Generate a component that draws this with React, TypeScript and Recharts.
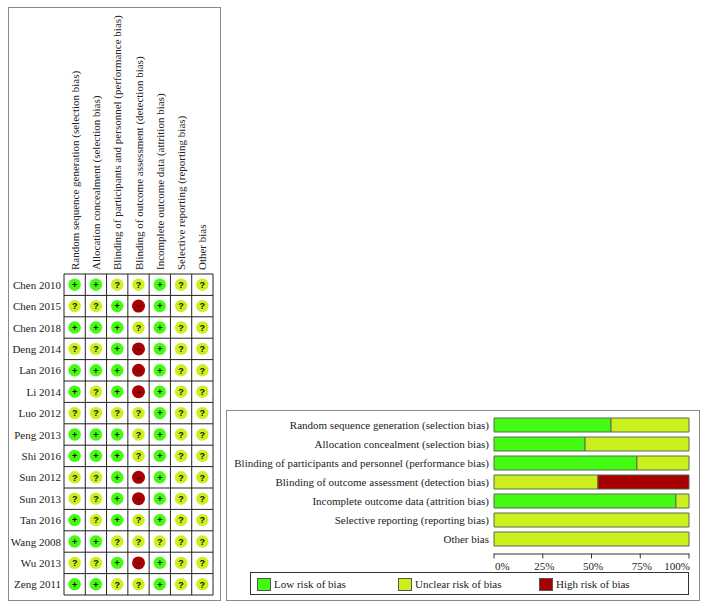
import React from 'react'
import {
  BarChart,
  Bar,
  ScatterChart,
  Scatter,
  XAxis,
  YAxis,
  ReferenceLine,
  Legend,
} from 'recharts'

const FONT = '"Liberation Serif", serif'
const TEXT = '#222'
const GREEN = '#44fb12'
const YELLOW = '#cbf01e'
const RED = '#a80000'

const domains = [
  'Random sequence generation (selection bias)',
  'Allocation concealment (selection bias)',
  'Blinding of participants and personnel (performance bias)',
  'Blinding of outcome assessment (detection bias)',
  'Incomplete outcome data (attrition bias)',
  'Selective reporting (reporting bias)',
  'Other bias',
]

const studies = [
  'Chen 2010', 'Chen 2015', 'Chen 2018', 'Deng 2014', 'Lan 2016',
  'Li 2014', 'Luo 2012', 'Peng 2013', 'Shi 2016', 'Sun 2012',
  'Sun 2013', 'Tan 2016', 'Wang 2008', 'Wu 2013', 'Zeng 2011',
]

// one string per study, one character per domain
const ratings = [
  '++??+??', '??+-+??', '+++?+??', '??+-+??', '+++-+??',
  '+?+-+??', '????+??', '+++?+??', '+++?+??', '??+-+??',
  '??+-+??', '+?+?+??', '++?????', '??+-+??', '++??+??',
]

const lowRisk = [60, 46.7, 73.3, 0, 93.3, 0, 0]
const unclearRisk = [40, 53.3, 26.7, 53.3, 6.7, 100, 100]
const highRisk = [0, 0, 0, 46.7, 0, 0, 0]
const percentTicks = [0, 25, 50, 75, 100]

const columnEdges = [0, 1, 2, 3, 4, 5, 6, 7]
const rowEdges = [0, 1, 2, 3, 4, 5, 6, 7, 8, 9, 10, 11, 12, 13, 14, 15]

const cells = ratings.flatMap((row, r) =>
  row.split('').map((rating, c) => ({ col: c + 0.5, row: r + 0.5, rating })),
)

const barData = domains.map((name, i) => ({
  name,
  low: lowRisk[i],
  unclear: unclearRisk[i],
  high: highRisk[i],
}))

function RatingDot({ cx, cy, payload }: any) {
  const fill = payload.rating === '+' ? GREEN : payload.rating === '?' ? YELLOW : RED
  const glyph = payload.rating === '-' ? '\u2212' : payload.rating
  return (
    <g>
      <circle cx={cx} cy={cy} r={payload.rating === '-' ? 6.5 : 6.2} fill={fill} />
      <text
        x={cx}
        y={cy + 3.2}
        textAnchor="middle"
        fontFamily='"Liberation Sans", sans-serif'
        fontWeight="bold"
        fontSize={9}
        fill="#111"
      >
        {glyph}
      </text>
    </g>
  )
}

function DomainTick({ x, y, payload }: any) {
  return (
    <text
      x={x}
      y={y}
      dy={4}
      transform={`rotate(-90 ${x} ${y})`}
      fontFamily={FONT}
      fontSize={11}
      fill={TEXT}
    >
      {domains[Math.floor(payload.value)]}
    </text>
  )
}

// plain right-aligned label, the default tick wraps long names
function RowTick({ x, y, payload, formatter }: any) {
  return (
    <text x={x} y={y} dy={4} textAnchor="end" fontFamily={FONT} fontSize={11} fill={TEXT}>
      {formatter ? formatter(payload.value) : payload.value}
    </text>
  )
}

function PercentTick({ x, y, payload }: any) {
  const anchor = payload.value === 0 ? 'start' : payload.value === 100 ? 'end' : 'middle'
  const nudge = payload.value === 0 ? 1 : payload.value === 100 ? 1 : 1.5
  return (
    <g>
      <line x1={x} x2={x} y1={y - 2.5} y2={y + 2.5} stroke="#333" />
      <text x={x + nudge} y={y + 14} textAnchor={anchor} fontFamily={FONT} fontSize={11} fill={TEXT}>
        {payload.value}%
      </text>
    </g>
  )
}

function RiskLegend({ payload }: any) {
  return (
    <div
      style={{
        height: 23,
        boxSizing: 'border-box',
        border: '1px solid #333',
        position: 'relative',
        fontFamily: FONT,
        fontSize: 11,
        color: TEXT,
      }}
    >
      {(payload || []).map((item: any, i: number) => (
        <div key={item.value} style={{ position: 'absolute', left: 6 + i * 141, top: 5, display: 'flex' }}>
          <span
            style={{
              width: 12,
              height: 11,
              background: item.color,
              border: '1px solid #555',
              marginRight: 3,
            }}
          />
          <span style={{ lineHeight: '13px' }}>{item.value}</span>
        </div>
      ))}
    </div>
  )
}

const panel: React.CSSProperties = {
  position: 'absolute',
  boxSizing: 'border-box',
  border: '1px solid #8a8a8a',
}

export default function App() {
  return (
    <div style={{ position: 'absolute', left: 0, top: 0, width: 703, height: 609, background: '#fff' }}>
      <div style={{ ...panel, left: 8, top: 7, width: 213, height: 594 }} />
      <div style={{ ...panel, left: 226, top: 410, width: 474, height: 191 }} />

      <div style={{ position: 'absolute', left: 0, top: 0 }}>
        <ScatterChart
          width={225}
          height={605}
          margin={{ top: 0, right: 12, bottom: 10, left: 0 }}
        >
          <XAxis
            type="number"
            dataKey="col"
            orientation="top"
            domain={[0, 7]}
            ticks={[0.5, 1.5, 2.5, 3.5, 4.5, 5.5, 6.5]}
            interval={0}
            height={274}
            axisLine={false}
            tickLine={false}
            tickSize={0}
            tickMargin={4}
            tick={<DomainTick />}
          />
          <YAxis
            type="number"
            dataKey="row"
            reversed
            domain={[0, 15]}
            ticks={rowEdges.slice(0, 15).map((v) => v + 0.5)}
            interval={0}
            width={64}
            axisLine={false}
            tickLine={false}
            tickSize={0}
            tickMargin={3}
            tick={<RowTick formatter={(v: number) => studies[Math.floor(v)]} />}
          />
          {columnEdges.map((v) => (
            <ReferenceLine key={`c${v}`} x={v} stroke="#222" strokeWidth={1} />
          ))}
          {rowEdges.map((v) => (
            <ReferenceLine key={`r${v}`} y={v} stroke="#222" strokeWidth={1} />
          ))}
          <Scatter data={cells} shape={<RatingDot />} isAnimationActive={false} />
        </ScatterChart>
      </div>

      <div style={{ position: 'absolute', left: 226, top: 405 }}>
        <BarChart
          width={477}
          height={200}
          layout="vertical"
          data={barData}
          barCategoryGap={2.5}
          margin={{ top: 10.5, right: 14, bottom: 10, left: 0 }}
        >
          <XAxis
            type="number"
            domain={[0, 100]}
            ticks={percentTicks}
            interval={0}
            height={18}
            axisLine={{ stroke: '#333' }}
            tickLine={false}
            tickSize={0}
            tick={<PercentTick />}
          />
          <YAxis
            type="category"
            dataKey="name"
            width={268}
            padding={{ top: 0, bottom: 5.5 }}
            axisLine={false}
            tickLine={false}
            tickSize={0}
            tickMargin={5}
            interval={0}
            tick={<RowTick />}
          />
          <Legend
            verticalAlign="bottom"
            height={23}
            itemSorter={null}
            wrapperStyle={{ left: 24, width: 439 }}
            content={<RiskLegend />}
          />
          <Bar dataKey="low" name="Low risk of bias" stackId="risk" fill={GREEN} stroke="#5a6a50" isAnimationActive={false} />
          <Bar dataKey="unclear" name="Unclear risk of bias" stackId="risk" fill={YELLOW} stroke="#5a6a50" isAnimationActive={false} />
          <Bar dataKey="high" name="High risk of bias" stackId="risk" fill={RED} stroke="#5a5a50" isAnimationActive={false} />
        </BarChart>
      </div>
    </div>
  )
}
